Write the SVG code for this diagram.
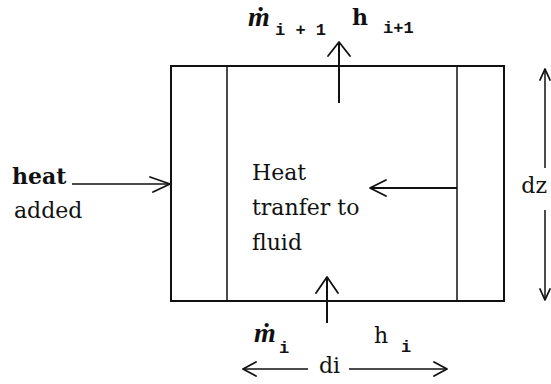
<svg xmlns="http://www.w3.org/2000/svg" width="551" height="384" viewBox="0 0 551 384">
<style>
.ln{stroke:#111;stroke-width:2;fill:none}
.thin{stroke:#111;stroke-width:1.5;fill:none}
.hd{stroke:#111;stroke-width:1.8;fill:none;stroke-linecap:round;stroke-linejoin:round}
.t{font-family:"DejaVu Serif","Liberation Serif",serif;font-size:22px;fill:#111}
.m{font-family:"Liberation Mono","DejaVu Sans Mono",monospace;font-size:17px;font-weight:bold;fill:#111}
.md{font-family:"Liberation Serif","DejaVu Serif",serif;font-size:28px;font-style:italic;font-weight:bold;fill:#111}
</style>
<rect width="551" height="384" fill="#fff"/>
<g id="control-volume">
<rect x="171" y="66" width="333" height="235" class="ln"/>
<line x1="227" y1="66" x2="227" y2="301" class="thin"/>
<line x1="457" y1="66" x2="457" y2="301" class="thin"/>
</g>
<g id="connectors">
<line x1="339" y1="43" x2="339" y2="103" class="ln"/>
<path d="M328,56 L339,42 L350,56" class="hd"/>
<line x1="327" y1="278" x2="327" y2="323" class="ln"/>
<path d="M316,293 L327,277 L338,293" class="hd"/>
<line x1="72" y1="184" x2="170" y2="184" class="thin"/>
<path d="M150,177 L170,184 L153,192" class="hd"/>
<line x1="370" y1="188" x2="457" y2="188" class="ln"/>
<path d="M386,180 L370,188 L386,196" class="hd"/>
<line x1="545" y1="69" x2="545" y2="168" class="thin"/>
<path d="M540,80 L545,69 L550,80" class="hd"/>
<line x1="545" y1="210" x2="545" y2="300" class="thin"/>
<path d="M540,289 L545,300 L550,289" class="hd"/>
<line x1="243" y1="369" x2="308" y2="369" class="thin"/>
<path d="M256,362 L243,369 L256,376" class="hd"/>
<line x1="349" y1="369" x2="447" y2="369" class="thin"/>
<path d="M434,362 L447,369 L434,376" class="hd"/>
</g>
<g id="labels">
<text x="248" y="26" class="md">ṁ</text>
<text x="275" y="35" class="m">i + 1</text>
<text x="352" y="25" class="t" font-weight="bold">h</text>
<text x="383" y="33" class="m">i+1</text>
<text x="12" y="184" class="t" font-weight="bold" font-size="23">heat</text>
<text x="14" y="218" class="t" font-size="23">added</text>
<text x="252" y="180" class="t">Heat</text>
<text x="252" y="215" class="t">tranfer to</text>
<text x="252" y="250" class="t">fluid</text>
<text x="254" y="342" class="md">ṁ</text>
<text x="279" y="353" class="m">i</text>
<text x="374" y="343" class="t">h</text>
<text x="401" y="352" class="m">i</text>
<text x="319" y="373" class="t">di</text>
<text x="547" y="193" class="t" font-size="19" text-anchor="end">dz</text>
</g>
</svg>
